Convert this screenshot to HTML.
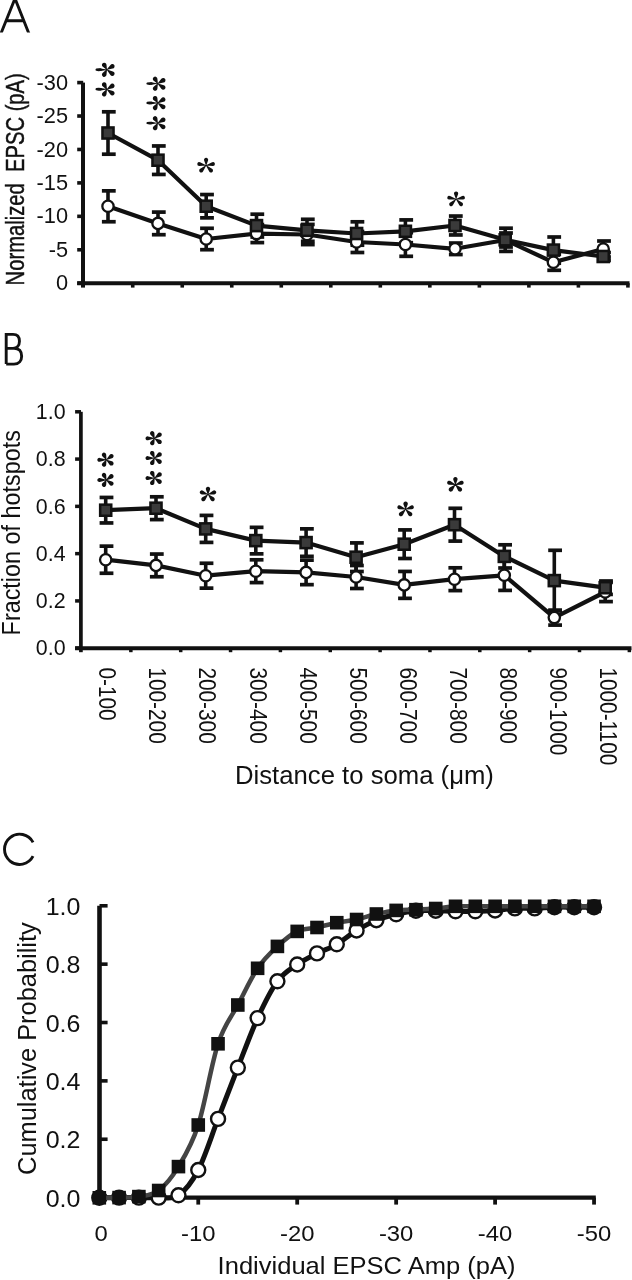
<!DOCTYPE html><html><head><meta charset="utf-8"><title>figure</title><style>
html,body{margin:0;padding:0;background:#fff;overflow:hidden}svg{display:block;will-change:transform}
text{font-family:"Liberation Sans",sans-serif;fill:#111}
</style></head><body>
<svg width="632" height="1280" viewBox="0 0 632 1280">
<defs><path id="au" d="M0.2 0L1.95 -4.81A2.1 2.1 0 1 0 -1.95 -4.81L-0.2 -0ZM0.04 0.2L6.76 0.49A1.9 1.9 0 1 0 6.03 -3.09L-0.04 -0.2ZM0.04 -0.2L-6.03 -3.09A1.9 1.9 0 1 0 -6.76 0.49L-0.04 0.2ZM-0.14 0.14L3.12 6.02A2 2 0 1 0 5.89 3.36L0.14 -0.14ZM-0.14 -0.14L-5.89 3.36A2 2 0 1 0 -3.12 6.02L0.14 0.14Z"/><g id="ar"><path d="M-0 -0.2L-6.24 -1.27A1.3 1.3 0 1 0 -6.24 1.27L0 0.2ZM0.18 -0.1L-0.3 -4.84A2.3 2.3 0 1 0 -3.94 -2.83L-0.18 0.1ZM0.11 0.17L5.93 -1.14A2.3 2.3 0 1 0 3.67 -4.8L-0.11 -0.17ZM-0.12 0.16L3.61 5.21A2.3 2.3 0 1 0 6.11 1.68L0.12 -0.16ZM-0.18 -0.09L-4 3.08A2.3 2.3 0 1 0 -0.3 5.04L0.18 0.09Z"/><ellipse cx="-8.1" cy="0" rx="3.2" ry="1.45"/></g><path id="ab" d="M-0 -0.2L-6.43 -1.92A2 2 0 1 0 -6.43 1.92L0 0.2ZM0.18 -0.08L-0.1 -5.04A2.2 2.2 0 1 0 -3.76 -3.36L-0.18 0.08ZM0.12 0.16L5.69 -1.58A2.2 2.2 0 1 0 3.27 -4.92L-0.12 -0.16ZM-0.12 0.16L3.28 4.83A2.2 2.2 0 1 0 5.65 1.47L0.12 -0.16ZM-0.18 -0.09L-3.71 3.11A2.2 2.2 0 1 0 -0.1 4.85L0.18 0.09Z"/><path id="bu" d="M0.2 0L2.02 -4.62A2.2 2.2 0 1 0 -2.02 -4.62L-0.2 -0ZM0.06 0.19L6.18 0.05A2.05 2.05 0 1 0 4.99 -3.65L-0.06 -0.19ZM0.06 -0.19L-4.99 -3.65A2.05 2.05 0 1 0 -6.18 0.05L-0.06 0.19ZM-0.14 0.14L2.65 5.71A2.15 2.15 0 1 0 5.59 2.89L0.14 -0.14ZM-0.14 -0.14L-5.59 2.89A2.15 2.15 0 1 0 -2.65 5.71L0.14 0.14Z"/></defs>
<rect width="632" height="1280" fill="#fff"/>
<g fill="none" stroke="#111" stroke-width="2.9">
<clipPath id="ca"><rect x="-5" y="-5" width="60" height="37.6"/></clipPath>
<path clip-path="url(#ca)" d="M0.6 34.3L15 -1.5L29.2 34.3M6.3 20.7H23.5"/>
<path d="M6.2 364.1V334.4H13C17.5 334.4 19.45 337.5 19.45 341.3C19.45 345.2 17 348.4 13 348.4H6.2M13 348.4H14C19.5 348.4 21.65 352 21.65 356.2C21.65 360.5 19 364.1 14 364.1H6.2"/>
<path d="M33.05 842.44A15.1 15.1 0 1 0 33.05 856.16"/>
</g>
<line x1="83" y1="82.6" x2="83" y2="287.6" stroke="#111" stroke-width="4" stroke-linecap="butt"/>
<line x1="77.2" y1="82.6" x2="83.2" y2="82.6" stroke="#111" stroke-width="3.6" stroke-linecap="butt"/>
<text transform="translate(68,89.7) scale(0.99,1)" font-size="22" text-anchor="end">-30</text>
<line x1="77.2" y1="116.03" x2="83.2" y2="116.03" stroke="#111" stroke-width="3.6" stroke-linecap="butt"/>
<text transform="translate(68,123.13) scale(0.99,1)" font-size="22" text-anchor="end">-25</text>
<line x1="77.2" y1="149.47" x2="83.2" y2="149.47" stroke="#111" stroke-width="3.6" stroke-linecap="butt"/>
<text transform="translate(68,156.57) scale(0.99,1)" font-size="22" text-anchor="end">-20</text>
<line x1="77.2" y1="182.9" x2="83.2" y2="182.9" stroke="#111" stroke-width="3.6" stroke-linecap="butt"/>
<text transform="translate(68,190) scale(0.99,1)" font-size="22" text-anchor="end">-15</text>
<line x1="77.2" y1="216.33" x2="83.2" y2="216.33" stroke="#111" stroke-width="3.6" stroke-linecap="butt"/>
<text transform="translate(68,223.43) scale(0.99,1)" font-size="22" text-anchor="end">-10</text>
<line x1="77.2" y1="249.77" x2="83.2" y2="249.77" stroke="#111" stroke-width="3.6" stroke-linecap="butt"/>
<text transform="translate(68,256.87) scale(0.99,1)" font-size="22" text-anchor="end">-5</text>
<line x1="77.2" y1="283.2" x2="83.2" y2="283.2" stroke="#111" stroke-width="3.6" stroke-linecap="butt"/>
<text transform="translate(68,290.3) scale(0.99,1)" font-size="22" text-anchor="end">0</text>
<line x1="77.2" y1="283.2" x2="629.5" y2="283.2" stroke="#111" stroke-width="4" stroke-linecap="butt"/>
<line x1="132.72" y1="283.2" x2="132.72" y2="287.6" stroke="#111" stroke-width="3.6" stroke-linecap="butt"/>
<line x1="182.24" y1="283.2" x2="182.24" y2="287.6" stroke="#111" stroke-width="3.6" stroke-linecap="butt"/>
<line x1="231.76" y1="283.2" x2="231.76" y2="287.6" stroke="#111" stroke-width="3.6" stroke-linecap="butt"/>
<line x1="281.28" y1="283.2" x2="281.28" y2="287.6" stroke="#111" stroke-width="3.6" stroke-linecap="butt"/>
<line x1="330.8" y1="283.2" x2="330.8" y2="287.6" stroke="#111" stroke-width="3.6" stroke-linecap="butt"/>
<line x1="380.32" y1="283.2" x2="380.32" y2="287.6" stroke="#111" stroke-width="3.6" stroke-linecap="butt"/>
<line x1="429.84" y1="283.2" x2="429.84" y2="287.6" stroke="#111" stroke-width="3.6" stroke-linecap="butt"/>
<line x1="479.36" y1="283.2" x2="479.36" y2="287.6" stroke="#111" stroke-width="3.6" stroke-linecap="butt"/>
<line x1="528.88" y1="283.2" x2="528.88" y2="287.6" stroke="#111" stroke-width="3.6" stroke-linecap="butt"/>
<line x1="578.4" y1="283.2" x2="578.4" y2="287.6" stroke="#111" stroke-width="3.6" stroke-linecap="butt"/>
<line x1="627.92" y1="283.2" x2="627.92" y2="287.6" stroke="#111" stroke-width="3.6" stroke-linecap="butt"/>
<line x1="108" y1="190.85" x2="108" y2="221.75" stroke="#111" stroke-width="3.6" stroke-linecap="butt"/>
<line x1="101.9" y1="190.85" x2="115.7" y2="190.85" stroke="#111" stroke-width="3.7" stroke-linecap="butt"/>
<line x1="101.9" y1="221.75" x2="115.7" y2="221.75" stroke="#111" stroke-width="3.7" stroke-linecap="butt"/>
<line x1="158" y1="212.1" x2="158" y2="234.7" stroke="#111" stroke-width="3.6" stroke-linecap="butt"/>
<line x1="151.9" y1="212.1" x2="165.7" y2="212.1" stroke="#111" stroke-width="3.7" stroke-linecap="butt"/>
<line x1="151.9" y1="234.7" x2="165.7" y2="234.7" stroke="#111" stroke-width="3.7" stroke-linecap="butt"/>
<line x1="206.2" y1="228.3" x2="206.2" y2="249.7" stroke="#111" stroke-width="3.6" stroke-linecap="butt"/>
<line x1="200.1" y1="228.3" x2="213.9" y2="228.3" stroke="#111" stroke-width="3.7" stroke-linecap="butt"/>
<line x1="200.1" y1="249.7" x2="213.9" y2="249.7" stroke="#111" stroke-width="3.7" stroke-linecap="butt"/>
<line x1="256.5" y1="224.6" x2="256.5" y2="242.6" stroke="#111" stroke-width="3.6" stroke-linecap="butt"/>
<line x1="250.4" y1="224.6" x2="264.2" y2="224.6" stroke="#111" stroke-width="3.7" stroke-linecap="butt"/>
<line x1="250.4" y1="242.6" x2="264.2" y2="242.6" stroke="#111" stroke-width="3.7" stroke-linecap="butt"/>
<line x1="307" y1="224.4" x2="307" y2="244.6" stroke="#111" stroke-width="3.6" stroke-linecap="butt"/>
<line x1="300.9" y1="224.4" x2="314.7" y2="224.4" stroke="#111" stroke-width="3.7" stroke-linecap="butt"/>
<line x1="300.9" y1="244.6" x2="314.7" y2="244.6" stroke="#111" stroke-width="3.7" stroke-linecap="butt"/>
<line x1="356.6" y1="231.5" x2="356.6" y2="252.5" stroke="#111" stroke-width="3.6" stroke-linecap="butt"/>
<line x1="350.5" y1="231.5" x2="364.3" y2="231.5" stroke="#111" stroke-width="3.7" stroke-linecap="butt"/>
<line x1="350.5" y1="252.5" x2="364.3" y2="252.5" stroke="#111" stroke-width="3.7" stroke-linecap="butt"/>
<line x1="405.4" y1="232.7" x2="405.4" y2="256.3" stroke="#111" stroke-width="3.6" stroke-linecap="butt"/>
<line x1="399.3" y1="232.7" x2="413.1" y2="232.7" stroke="#111" stroke-width="3.7" stroke-linecap="butt"/>
<line x1="399.3" y1="256.3" x2="413.1" y2="256.3" stroke="#111" stroke-width="3.7" stroke-linecap="butt"/>
<line x1="455" y1="243.05" x2="455" y2="254.55" stroke="#111" stroke-width="3.6" stroke-linecap="butt"/>
<line x1="448.9" y1="243.05" x2="462.7" y2="243.05" stroke="#111" stroke-width="3.7" stroke-linecap="butt"/>
<line x1="448.9" y1="254.55" x2="462.7" y2="254.55" stroke="#111" stroke-width="3.7" stroke-linecap="butt"/>
<line x1="505.2" y1="233" x2="505.2" y2="247" stroke="#111" stroke-width="3.6" stroke-linecap="butt"/>
<line x1="499.1" y1="233" x2="512.9" y2="233" stroke="#111" stroke-width="3.7" stroke-linecap="butt"/>
<line x1="499.1" y1="247" x2="512.9" y2="247" stroke="#111" stroke-width="3.7" stroke-linecap="butt"/>
<line x1="553.4" y1="254.3" x2="553.4" y2="270.3" stroke="#111" stroke-width="3.6" stroke-linecap="butt"/>
<line x1="547.3" y1="254.3" x2="561.1" y2="254.3" stroke="#111" stroke-width="3.7" stroke-linecap="butt"/>
<line x1="547.3" y1="270.3" x2="561.1" y2="270.3" stroke="#111" stroke-width="3.7" stroke-linecap="butt"/>
<line x1="603.2" y1="241" x2="603.2" y2="257" stroke="#111" stroke-width="3.6" stroke-linecap="butt"/>
<line x1="597.1" y1="241" x2="610.9" y2="241" stroke="#111" stroke-width="3.7" stroke-linecap="butt"/>
<line x1="597.1" y1="257" x2="610.9" y2="257" stroke="#111" stroke-width="3.7" stroke-linecap="butt"/>
<line x1="108" y1="111.8" x2="108" y2="154.2" stroke="#111" stroke-width="3.6" stroke-linecap="butt"/>
<line x1="101.9" y1="111.8" x2="115.7" y2="111.8" stroke="#111" stroke-width="3.7" stroke-linecap="butt"/>
<line x1="101.9" y1="154.2" x2="115.7" y2="154.2" stroke="#111" stroke-width="3.7" stroke-linecap="butt"/>
<line x1="158" y1="145.95" x2="158" y2="174.45" stroke="#111" stroke-width="3.6" stroke-linecap="butt"/>
<line x1="151.9" y1="145.95" x2="165.7" y2="145.95" stroke="#111" stroke-width="3.7" stroke-linecap="butt"/>
<line x1="151.9" y1="174.45" x2="165.7" y2="174.45" stroke="#111" stroke-width="3.7" stroke-linecap="butt"/>
<line x1="206.2" y1="194.55" x2="206.2" y2="217.85" stroke="#111" stroke-width="3.6" stroke-linecap="butt"/>
<line x1="200.1" y1="194.55" x2="213.9" y2="194.55" stroke="#111" stroke-width="3.7" stroke-linecap="butt"/>
<line x1="200.1" y1="217.85" x2="213.9" y2="217.85" stroke="#111" stroke-width="3.7" stroke-linecap="butt"/>
<line x1="256.5" y1="214.2" x2="256.5" y2="237" stroke="#111" stroke-width="3.6" stroke-linecap="butt"/>
<line x1="250.4" y1="214.2" x2="264.2" y2="214.2" stroke="#111" stroke-width="3.7" stroke-linecap="butt"/>
<line x1="250.4" y1="237" x2="264.2" y2="237" stroke="#111" stroke-width="3.7" stroke-linecap="butt"/>
<line x1="307" y1="219.3" x2="307" y2="241.3" stroke="#111" stroke-width="3.6" stroke-linecap="butt"/>
<line x1="300.9" y1="219.3" x2="314.7" y2="219.3" stroke="#111" stroke-width="3.7" stroke-linecap="butt"/>
<line x1="300.9" y1="241.3" x2="314.7" y2="241.3" stroke="#111" stroke-width="3.7" stroke-linecap="butt"/>
<line x1="356.6" y1="221.8" x2="356.6" y2="245.2" stroke="#111" stroke-width="3.6" stroke-linecap="butt"/>
<line x1="350.5" y1="221.8" x2="364.3" y2="221.8" stroke="#111" stroke-width="3.7" stroke-linecap="butt"/>
<line x1="350.5" y1="245.2" x2="364.3" y2="245.2" stroke="#111" stroke-width="3.7" stroke-linecap="butt"/>
<line x1="405.4" y1="219.9" x2="405.4" y2="242.7" stroke="#111" stroke-width="3.6" stroke-linecap="butt"/>
<line x1="399.3" y1="219.9" x2="413.1" y2="219.9" stroke="#111" stroke-width="3.7" stroke-linecap="butt"/>
<line x1="399.3" y1="242.7" x2="413.1" y2="242.7" stroke="#111" stroke-width="3.7" stroke-linecap="butt"/>
<line x1="455" y1="216.05" x2="455" y2="234.95" stroke="#111" stroke-width="3.6" stroke-linecap="butt"/>
<line x1="448.9" y1="216.05" x2="462.7" y2="216.05" stroke="#111" stroke-width="3.7" stroke-linecap="butt"/>
<line x1="448.9" y1="234.95" x2="462.7" y2="234.95" stroke="#111" stroke-width="3.7" stroke-linecap="butt"/>
<line x1="505.2" y1="228.2" x2="505.2" y2="251.4" stroke="#111" stroke-width="3.6" stroke-linecap="butt"/>
<line x1="499.1" y1="228.2" x2="512.9" y2="228.2" stroke="#111" stroke-width="3.7" stroke-linecap="butt"/>
<line x1="499.1" y1="251.4" x2="512.9" y2="251.4" stroke="#111" stroke-width="3.7" stroke-linecap="butt"/>
<line x1="553.4" y1="237" x2="553.4" y2="263.2" stroke="#111" stroke-width="3.6" stroke-linecap="butt"/>
<line x1="547.3" y1="237" x2="561.1" y2="237" stroke="#111" stroke-width="3.7" stroke-linecap="butt"/>
<line x1="547.3" y1="263.2" x2="561.1" y2="263.2" stroke="#111" stroke-width="3.7" stroke-linecap="butt"/>
<line x1="603.2" y1="252.5" x2="603.2" y2="260.5" stroke="#111" stroke-width="3.6" stroke-linecap="butt"/>
<line x1="597.1" y1="252.5" x2="610.9" y2="252.5" stroke="#111" stroke-width="3.7" stroke-linecap="butt"/>
<line x1="597.1" y1="260.5" x2="610.9" y2="260.5" stroke="#111" stroke-width="3.7" stroke-linecap="butt"/>
<polyline fill="none" stroke="#111" stroke-width="4.2" stroke-linejoin="round" points="108,206.3 158,223.4 206.2,239 256.5,233.6 307,234.5 356.6,242 405.4,244.5 455,248.8 505.2,240 553.4,262.3 603.2,249"/>
<polyline fill="none" stroke="#111" stroke-width="4.2" stroke-linejoin="round" points="108,133 158,160.2 206.2,206.2 256.5,225.6 307,230.3 356.6,233.5 405.4,231.3 455,225.5 505.2,239.8 553.4,250.1 603.2,256.5"/>
<circle cx="108" cy="206.3" r="5.65" fill="#fff" stroke="#111" stroke-width="2.3"/>
<circle cx="158" cy="223.4" r="5.65" fill="#fff" stroke="#111" stroke-width="2.3"/>
<circle cx="206.2" cy="239" r="5.65" fill="#fff" stroke="#111" stroke-width="2.3"/>
<circle cx="256.5" cy="233.6" r="5.65" fill="#fff" stroke="#111" stroke-width="2.3"/>
<circle cx="307" cy="234.5" r="5.65" fill="#fff" stroke="#111" stroke-width="2.3"/>
<circle cx="356.6" cy="242" r="5.65" fill="#fff" stroke="#111" stroke-width="2.3"/>
<circle cx="405.4" cy="244.5" r="5.65" fill="#fff" stroke="#111" stroke-width="2.3"/>
<circle cx="455" cy="248.8" r="5.65" fill="#fff" stroke="#111" stroke-width="2.3"/>
<circle cx="505.2" cy="240" r="5.65" fill="#fff" stroke="#111" stroke-width="2.3"/>
<circle cx="553.4" cy="262.3" r="5.65" fill="#fff" stroke="#111" stroke-width="2.3"/>
<circle cx="603.2" cy="249" r="5.65" fill="#fff" stroke="#111" stroke-width="2.3"/>
<rect x="102.45" y="127.45" width="11.1" height="11.1" fill="#3a3a3a" stroke="#111" stroke-width="2.5"/>
<rect x="152.45" y="154.65" width="11.1" height="11.1" fill="#3a3a3a" stroke="#111" stroke-width="2.5"/>
<rect x="200.65" y="200.65" width="11.1" height="11.1" fill="#3a3a3a" stroke="#111" stroke-width="2.5"/>
<rect x="250.95" y="220.05" width="11.1" height="11.1" fill="#3a3a3a" stroke="#111" stroke-width="2.5"/>
<rect x="301.45" y="224.75" width="11.1" height="11.1" fill="#3a3a3a" stroke="#111" stroke-width="2.5"/>
<rect x="351.05" y="227.95" width="11.1" height="11.1" fill="#3a3a3a" stroke="#111" stroke-width="2.5"/>
<rect x="399.85" y="225.75" width="11.1" height="11.1" fill="#3a3a3a" stroke="#111" stroke-width="2.5"/>
<rect x="449.45" y="219.95" width="11.1" height="11.1" fill="#3a3a3a" stroke="#111" stroke-width="2.5"/>
<rect x="499.65" y="234.25" width="11.1" height="11.1" fill="#3a3a3a" stroke="#111" stroke-width="2.5"/>
<rect x="547.85" y="244.55" width="11.1" height="11.1" fill="#3a3a3a" stroke="#111" stroke-width="2.5"/>
<rect x="597.65" y="250.95" width="11.1" height="11.1" fill="#3a3a3a" stroke="#111" stroke-width="2.5"/>
<use href="#ar" x="106.8" y="69.7" fill="#111"/>
<use href="#ar" x="106.8" y="89.3" fill="#111"/>
<use href="#ar" x="157.7" y="83.6" fill="#111"/>
<use href="#ar" x="157.7" y="103" fill="#111"/>
<use href="#ar" x="157.7" y="123.1" fill="#111"/>
<use href="#au" x="206.1" y="165.4" fill="#111"/>
<use href="#au" x="456.1" y="199.1" fill="#111"/>
<text transform="translate(23.7,285.4) rotate(-90) scale(0.79,1)" font-size="25.6" stroke="#111" stroke-width="0.45">Normalized&#160;&#160;EPSC (pA)</text>
<line x1="80.9" y1="411.8" x2="80.9" y2="652.2" stroke="#111" stroke-width="3.7" stroke-linecap="butt"/>
<line x1="75.1" y1="411.8" x2="81" y2="411.8" stroke="#111" stroke-width="3.5" stroke-linecap="butt"/>
<text x="65.6" y="419" font-size="21.4" text-anchor="end">1.0</text>
<line x1="75.1" y1="459.08" x2="81" y2="459.08" stroke="#111" stroke-width="3.5" stroke-linecap="butt"/>
<text x="65.6" y="466.28" font-size="21.4" text-anchor="end">0.8</text>
<line x1="75.1" y1="506.36" x2="81" y2="506.36" stroke="#111" stroke-width="3.5" stroke-linecap="butt"/>
<text x="65.6" y="513.56" font-size="21.4" text-anchor="end">0.6</text>
<line x1="75.1" y1="553.64" x2="81" y2="553.64" stroke="#111" stroke-width="3.5" stroke-linecap="butt"/>
<text x="65.6" y="560.84" font-size="21.4" text-anchor="end">0.4</text>
<line x1="75.1" y1="600.92" x2="81" y2="600.92" stroke="#111" stroke-width="3.5" stroke-linecap="butt"/>
<text x="65.6" y="608.12" font-size="21.4" text-anchor="end">0.2</text>
<line x1="75.1" y1="648.2" x2="81" y2="648.2" stroke="#111" stroke-width="3.5" stroke-linecap="butt"/>
<text x="65.6" y="655.4" font-size="21.4" text-anchor="end">0.0</text>
<line x1="75.1" y1="648.2" x2="631.5" y2="648.2" stroke="#111" stroke-width="4" stroke-linecap="butt"/>
<line x1="130.85" y1="648.2" x2="130.85" y2="652.2" stroke="#111" stroke-width="3.5" stroke-linecap="butt"/>
<line x1="180.7" y1="648.2" x2="180.7" y2="652.2" stroke="#111" stroke-width="3.5" stroke-linecap="butt"/>
<line x1="230.55" y1="648.2" x2="230.55" y2="652.2" stroke="#111" stroke-width="3.5" stroke-linecap="butt"/>
<line x1="280.4" y1="648.2" x2="280.4" y2="652.2" stroke="#111" stroke-width="3.5" stroke-linecap="butt"/>
<line x1="330.25" y1="648.2" x2="330.25" y2="652.2" stroke="#111" stroke-width="3.5" stroke-linecap="butt"/>
<line x1="380.1" y1="648.2" x2="380.1" y2="652.2" stroke="#111" stroke-width="3.5" stroke-linecap="butt"/>
<line x1="429.95" y1="648.2" x2="429.95" y2="652.2" stroke="#111" stroke-width="3.5" stroke-linecap="butt"/>
<line x1="479.8" y1="648.2" x2="479.8" y2="652.2" stroke="#111" stroke-width="3.5" stroke-linecap="butt"/>
<line x1="529.65" y1="648.2" x2="529.65" y2="652.2" stroke="#111" stroke-width="3.5" stroke-linecap="butt"/>
<line x1="579.5" y1="648.2" x2="579.5" y2="652.2" stroke="#111" stroke-width="3.5" stroke-linecap="butt"/>
<line x1="629.35" y1="648.2" x2="629.35" y2="652.2" stroke="#111" stroke-width="3.5" stroke-linecap="butt"/>
<line x1="105.7" y1="546.15" x2="105.7" y2="573.25" stroke="#111" stroke-width="3.6" stroke-linecap="butt"/>
<line x1="99.6" y1="546.15" x2="113.4" y2="546.15" stroke="#111" stroke-width="3.7" stroke-linecap="butt"/>
<line x1="99.6" y1="573.25" x2="113.4" y2="573.25" stroke="#111" stroke-width="3.7" stroke-linecap="butt"/>
<line x1="156" y1="554.05" x2="156" y2="576.75" stroke="#111" stroke-width="3.6" stroke-linecap="butt"/>
<line x1="149.9" y1="554.05" x2="163.7" y2="554.05" stroke="#111" stroke-width="3.7" stroke-linecap="butt"/>
<line x1="149.9" y1="576.75" x2="163.7" y2="576.75" stroke="#111" stroke-width="3.7" stroke-linecap="butt"/>
<line x1="205.7" y1="563.25" x2="205.7" y2="588.15" stroke="#111" stroke-width="3.6" stroke-linecap="butt"/>
<line x1="199.6" y1="563.25" x2="213.4" y2="563.25" stroke="#111" stroke-width="3.7" stroke-linecap="butt"/>
<line x1="199.6" y1="588.15" x2="213.4" y2="588.15" stroke="#111" stroke-width="3.7" stroke-linecap="butt"/>
<line x1="255.8" y1="559.8" x2="255.8" y2="582.6" stroke="#111" stroke-width="3.6" stroke-linecap="butt"/>
<line x1="249.7" y1="559.8" x2="263.5" y2="559.8" stroke="#111" stroke-width="3.7" stroke-linecap="butt"/>
<line x1="249.7" y1="582.6" x2="263.5" y2="582.6" stroke="#111" stroke-width="3.7" stroke-linecap="butt"/>
<line x1="306.1" y1="560.15" x2="306.1" y2="584.65" stroke="#111" stroke-width="3.6" stroke-linecap="butt"/>
<line x1="300" y1="560.15" x2="313.8" y2="560.15" stroke="#111" stroke-width="3.7" stroke-linecap="butt"/>
<line x1="300" y1="584.65" x2="313.8" y2="584.65" stroke="#111" stroke-width="3.7" stroke-linecap="butt"/>
<line x1="356.1" y1="565.5" x2="356.1" y2="588.5" stroke="#111" stroke-width="3.6" stroke-linecap="butt"/>
<line x1="350" y1="565.5" x2="363.8" y2="565.5" stroke="#111" stroke-width="3.7" stroke-linecap="butt"/>
<line x1="350" y1="588.5" x2="363.8" y2="588.5" stroke="#111" stroke-width="3.7" stroke-linecap="butt"/>
<line x1="404.2" y1="571.45" x2="404.2" y2="598.35" stroke="#111" stroke-width="3.6" stroke-linecap="butt"/>
<line x1="398.1" y1="571.45" x2="411.9" y2="571.45" stroke="#111" stroke-width="3.7" stroke-linecap="butt"/>
<line x1="398.1" y1="598.35" x2="411.9" y2="598.35" stroke="#111" stroke-width="3.7" stroke-linecap="butt"/>
<line x1="454.5" y1="567.8" x2="454.5" y2="590.6" stroke="#111" stroke-width="3.6" stroke-linecap="butt"/>
<line x1="448.4" y1="567.8" x2="462.2" y2="567.8" stroke="#111" stroke-width="3.7" stroke-linecap="butt"/>
<line x1="448.4" y1="590.6" x2="462.2" y2="590.6" stroke="#111" stroke-width="3.7" stroke-linecap="butt"/>
<line x1="504.3" y1="560.2" x2="504.3" y2="590.4" stroke="#111" stroke-width="3.6" stroke-linecap="butt"/>
<line x1="498.2" y1="560.2" x2="512" y2="560.2" stroke="#111" stroke-width="3.7" stroke-linecap="butt"/>
<line x1="498.2" y1="590.4" x2="512" y2="590.4" stroke="#111" stroke-width="3.7" stroke-linecap="butt"/>
<line x1="554.3" y1="610.1" x2="554.3" y2="625.1" stroke="#111" stroke-width="3.6" stroke-linecap="butt"/>
<line x1="548.2" y1="610.1" x2="562" y2="610.1" stroke="#111" stroke-width="3.7" stroke-linecap="butt"/>
<line x1="548.2" y1="625.1" x2="562" y2="625.1" stroke="#111" stroke-width="3.7" stroke-linecap="butt"/>
<line x1="605.2" y1="582.4" x2="605.2" y2="601.6" stroke="#111" stroke-width="3.6" stroke-linecap="butt"/>
<line x1="599.1" y1="582.4" x2="612.9" y2="582.4" stroke="#111" stroke-width="3.7" stroke-linecap="butt"/>
<line x1="599.1" y1="601.6" x2="612.9" y2="601.6" stroke="#111" stroke-width="3.7" stroke-linecap="butt"/>
<line x1="105.7" y1="497.45" x2="105.7" y2="522.95" stroke="#111" stroke-width="3.6" stroke-linecap="butt"/>
<line x1="99.6" y1="497.45" x2="113.4" y2="497.45" stroke="#111" stroke-width="3.7" stroke-linecap="butt"/>
<line x1="99.6" y1="522.95" x2="113.4" y2="522.95" stroke="#111" stroke-width="3.7" stroke-linecap="butt"/>
<line x1="156" y1="496.8" x2="156" y2="519.6" stroke="#111" stroke-width="3.6" stroke-linecap="butt"/>
<line x1="149.9" y1="496.8" x2="163.7" y2="496.8" stroke="#111" stroke-width="3.7" stroke-linecap="butt"/>
<line x1="149.9" y1="519.6" x2="163.7" y2="519.6" stroke="#111" stroke-width="3.7" stroke-linecap="butt"/>
<line x1="205.7" y1="515.4" x2="205.7" y2="542.4" stroke="#111" stroke-width="3.6" stroke-linecap="butt"/>
<line x1="199.6" y1="515.4" x2="213.4" y2="515.4" stroke="#111" stroke-width="3.7" stroke-linecap="butt"/>
<line x1="199.6" y1="542.4" x2="213.4" y2="542.4" stroke="#111" stroke-width="3.7" stroke-linecap="butt"/>
<line x1="255.8" y1="527.35" x2="255.8" y2="553.85" stroke="#111" stroke-width="3.6" stroke-linecap="butt"/>
<line x1="249.7" y1="527.35" x2="263.5" y2="527.35" stroke="#111" stroke-width="3.7" stroke-linecap="butt"/>
<line x1="249.7" y1="553.85" x2="263.5" y2="553.85" stroke="#111" stroke-width="3.7" stroke-linecap="butt"/>
<line x1="306.1" y1="528.85" x2="306.1" y2="556.35" stroke="#111" stroke-width="3.6" stroke-linecap="butt"/>
<line x1="300" y1="528.85" x2="313.8" y2="528.85" stroke="#111" stroke-width="3.7" stroke-linecap="butt"/>
<line x1="300" y1="556.35" x2="313.8" y2="556.35" stroke="#111" stroke-width="3.7" stroke-linecap="butt"/>
<line x1="356.1" y1="542.9" x2="356.1" y2="571.5" stroke="#111" stroke-width="3.6" stroke-linecap="butt"/>
<line x1="350" y1="542.9" x2="363.8" y2="542.9" stroke="#111" stroke-width="3.7" stroke-linecap="butt"/>
<line x1="350" y1="571.5" x2="363.8" y2="571.5" stroke="#111" stroke-width="3.7" stroke-linecap="butt"/>
<line x1="404.2" y1="529.9" x2="404.2" y2="558.5" stroke="#111" stroke-width="3.6" stroke-linecap="butt"/>
<line x1="398.1" y1="529.9" x2="411.9" y2="529.9" stroke="#111" stroke-width="3.7" stroke-linecap="butt"/>
<line x1="398.1" y1="558.5" x2="411.9" y2="558.5" stroke="#111" stroke-width="3.7" stroke-linecap="butt"/>
<line x1="454.5" y1="508.3" x2="454.5" y2="541.1" stroke="#111" stroke-width="3.6" stroke-linecap="butt"/>
<line x1="448.4" y1="508.3" x2="462.2" y2="508.3" stroke="#111" stroke-width="3.7" stroke-linecap="butt"/>
<line x1="448.4" y1="541.1" x2="462.2" y2="541.1" stroke="#111" stroke-width="3.7" stroke-linecap="butt"/>
<line x1="504.3" y1="544.8" x2="504.3" y2="568" stroke="#111" stroke-width="3.6" stroke-linecap="butt"/>
<line x1="498.2" y1="544.8" x2="512" y2="544.8" stroke="#111" stroke-width="3.7" stroke-linecap="butt"/>
<line x1="498.2" y1="568" x2="512" y2="568" stroke="#111" stroke-width="3.7" stroke-linecap="butt"/>
<line x1="554.3" y1="550.3" x2="554.3" y2="610.9" stroke="#111" stroke-width="3.6" stroke-linecap="butt"/>
<line x1="548.2" y1="550.3" x2="562" y2="550.3" stroke="#111" stroke-width="3.7" stroke-linecap="butt"/>
<line x1="548.2" y1="610.9" x2="562" y2="610.9" stroke="#111" stroke-width="3.7" stroke-linecap="butt"/>
<line x1="605.2" y1="581" x2="605.2" y2="594.4" stroke="#111" stroke-width="3.6" stroke-linecap="butt"/>
<line x1="599.1" y1="581" x2="612.9" y2="581" stroke="#111" stroke-width="3.7" stroke-linecap="butt"/>
<line x1="599.1" y1="594.4" x2="612.9" y2="594.4" stroke="#111" stroke-width="3.7" stroke-linecap="butt"/>
<polyline fill="none" stroke="#111" stroke-width="4.2" stroke-linejoin="round" points="105.7,559.7 156,565.4 205.7,575.7 255.8,571.2 306.1,572.4 356.1,577 404.2,584.9 454.5,579.2 504.3,575.3 554.3,617.6 605.2,592"/>
<polyline fill="none" stroke="#111" stroke-width="4.2" stroke-linejoin="round" points="105.7,510.2 156,508.2 205.7,528.9 255.8,540.6 306.1,542.6 356.1,557.2 404.2,544.2 454.5,524.7 504.3,556.4 554.3,580.6 605.2,587.7"/>
<circle cx="105.7" cy="559.7" r="5.65" fill="#fff" stroke="#111" stroke-width="2.3"/>
<circle cx="156" cy="565.4" r="5.65" fill="#fff" stroke="#111" stroke-width="2.3"/>
<circle cx="205.7" cy="575.7" r="5.65" fill="#fff" stroke="#111" stroke-width="2.3"/>
<circle cx="255.8" cy="571.2" r="5.65" fill="#fff" stroke="#111" stroke-width="2.3"/>
<circle cx="306.1" cy="572.4" r="5.65" fill="#fff" stroke="#111" stroke-width="2.3"/>
<circle cx="356.1" cy="577" r="5.65" fill="#fff" stroke="#111" stroke-width="2.3"/>
<circle cx="404.2" cy="584.9" r="5.65" fill="#fff" stroke="#111" stroke-width="2.3"/>
<circle cx="454.5" cy="579.2" r="5.65" fill="#fff" stroke="#111" stroke-width="2.3"/>
<circle cx="504.3" cy="575.3" r="5.65" fill="#fff" stroke="#111" stroke-width="2.3"/>
<circle cx="554.3" cy="617.6" r="5.65" fill="#fff" stroke="#111" stroke-width="2.3"/>
<circle cx="605.2" cy="592" r="5.65" fill="#fff" stroke="#111" stroke-width="2.3"/>
<rect x="100.15" y="504.65" width="11.1" height="11.1" fill="#3a3a3a" stroke="#111" stroke-width="2.5"/>
<rect x="150.45" y="502.65" width="11.1" height="11.1" fill="#3a3a3a" stroke="#111" stroke-width="2.5"/>
<rect x="200.15" y="523.35" width="11.1" height="11.1" fill="#3a3a3a" stroke="#111" stroke-width="2.5"/>
<rect x="250.25" y="535.05" width="11.1" height="11.1" fill="#3a3a3a" stroke="#111" stroke-width="2.5"/>
<rect x="300.55" y="537.05" width="11.1" height="11.1" fill="#3a3a3a" stroke="#111" stroke-width="2.5"/>
<rect x="350.55" y="551.65" width="11.1" height="11.1" fill="#3a3a3a" stroke="#111" stroke-width="2.5"/>
<rect x="398.65" y="538.65" width="11.1" height="11.1" fill="#3a3a3a" stroke="#111" stroke-width="2.5"/>
<rect x="448.95" y="519.15" width="11.1" height="11.1" fill="#3a3a3a" stroke="#111" stroke-width="2.5"/>
<rect x="498.75" y="550.85" width="11.1" height="11.1" fill="#3a3a3a" stroke="#111" stroke-width="2.5"/>
<rect x="548.75" y="575.05" width="11.1" height="11.1" fill="#3a3a3a" stroke="#111" stroke-width="2.5"/>
<rect x="599.65" y="582.15" width="11.1" height="11.1" fill="#3a3a3a" stroke="#111" stroke-width="2.5"/>
<use href="#ab" x="106.3" y="459.8" fill="#111"/>
<use href="#ab" x="106.3" y="480" fill="#111"/>
<use href="#ab" x="154.5" y="438.3" fill="#111"/>
<use href="#ab" x="154.5" y="458.1" fill="#111"/>
<use href="#ab" x="154.5" y="478.1" fill="#111"/>
<use href="#bu" x="208" y="494.4" fill="#111"/>
<use href="#bu" x="405.6" y="509.3" fill="#111"/>
<use href="#bu" x="455.4" y="484.7" fill="#111"/>
<text transform="translate(99.3,667.4) rotate(90) scale(0.905,1)" font-size="23">0-100</text>
<text transform="translate(149.38,667.4) rotate(90) scale(0.905,1)" font-size="23">100-200</text>
<text transform="translate(199.46,667.4) rotate(90) scale(0.905,1)" font-size="23">200-300</text>
<text transform="translate(249.54,667.4) rotate(90) scale(0.905,1)" font-size="23">300-400</text>
<text transform="translate(299.62,667.4) rotate(90) scale(0.905,1)" font-size="23">400-500</text>
<text transform="translate(349.7,667.4) rotate(90) scale(0.905,1)" font-size="23">500-600</text>
<text transform="translate(399.78,667.4) rotate(90) scale(0.905,1)" font-size="23">600-700</text>
<text transform="translate(449.86,667.4) rotate(90) scale(0.905,1)" font-size="23">700-800</text>
<text transform="translate(499.94,667.4) rotate(90) scale(0.905,1)" font-size="23">800-900</text>
<text transform="translate(550.02,667.4) rotate(90) scale(0.905,1)" font-size="23">900-1000</text>
<text transform="translate(600.1,667.4) rotate(90) scale(0.905,1)" font-size="23">1000-1100</text>
<text transform="translate(235,784.4) scale(1.02,1)" font-size="25.2" text-anchor="start">Distance to soma (&#956;m)</text>
<text transform="translate(19.9,635.4) rotate(-90) scale(0.917,1)" font-size="25.5">Fraction of hotspots</text>
<line x1="99.5" y1="905.8" x2="99.5" y2="1197.6" stroke="#111" stroke-width="4.6" stroke-linecap="butt"/>
<line x1="99.5" y1="905.8" x2="107.6" y2="905.8" stroke="#111" stroke-width="3.6" stroke-linecap="butt"/>
<text transform="translate(80.4,914.9) scale(1.05,1)" font-size="23.8" text-anchor="end">1.0</text>
<line x1="99.5" y1="964.16" x2="107.6" y2="964.16" stroke="#111" stroke-width="3.6" stroke-linecap="butt"/>
<text transform="translate(80.4,973.26) scale(1.05,1)" font-size="23.8" text-anchor="end">0.8</text>
<line x1="99.5" y1="1022.52" x2="107.6" y2="1022.52" stroke="#111" stroke-width="3.6" stroke-linecap="butt"/>
<text transform="translate(80.4,1031.62) scale(1.05,1)" font-size="23.8" text-anchor="end">0.6</text>
<line x1="99.5" y1="1080.88" x2="107.6" y2="1080.88" stroke="#111" stroke-width="3.6" stroke-linecap="butt"/>
<text transform="translate(80.4,1089.98) scale(1.05,1)" font-size="23.8" text-anchor="end">0.4</text>
<line x1="99.5" y1="1139.24" x2="107.6" y2="1139.24" stroke="#111" stroke-width="3.6" stroke-linecap="butt"/>
<text transform="translate(80.4,1148.34) scale(1.05,1)" font-size="23.8" text-anchor="end">0.2</text>
<line x1="99.5" y1="1197.6" x2="107.6" y2="1197.6" stroke="#111" stroke-width="3.6" stroke-linecap="butt"/>
<text transform="translate(80.4,1206.7) scale(1.05,1)" font-size="23.8" text-anchor="end">0.0</text>
<line x1="99.5" y1="1197.6" x2="595.8" y2="1197.6" stroke="#111" stroke-width="4.2" stroke-linecap="butt"/>
<line x1="198.25" y1="1197.6" x2="198.25" y2="1204.6" stroke="#111" stroke-width="3.8" stroke-linecap="butt"/>
<line x1="297.2" y1="1197.6" x2="297.2" y2="1204.6" stroke="#111" stroke-width="3.8" stroke-linecap="butt"/>
<line x1="396.15" y1="1197.6" x2="396.15" y2="1204.6" stroke="#111" stroke-width="3.8" stroke-linecap="butt"/>
<line x1="495.1" y1="1197.6" x2="495.1" y2="1204.6" stroke="#111" stroke-width="3.8" stroke-linecap="butt"/>
<line x1="594.05" y1="1197.6" x2="594.05" y2="1204.6" stroke="#111" stroke-width="3.8" stroke-linecap="butt"/>
<text transform="translate(101.1,1241.2) scale(1.06,1)" font-size="22.5" text-anchor="middle">0</text>
<text transform="translate(198.25,1241.2) scale(1.06,1)" font-size="22.5" text-anchor="middle">-10</text>
<text transform="translate(297.2,1241.2) scale(1.06,1)" font-size="22.5" text-anchor="middle">-20</text>
<text transform="translate(396.15,1241.2) scale(1.06,1)" font-size="22.5" text-anchor="middle">-30</text>
<text transform="translate(495.1,1241.2) scale(1.06,1)" font-size="22.5" text-anchor="middle">-40</text>
<text transform="translate(594.05,1241.2) scale(1.06,1)" font-size="22.5" text-anchor="middle">-50</text>
<text transform="translate(217.6,1274.4) scale(1.03,1)" font-size="24.8" text-anchor="start">Individual EPSC Amp (pA)</text>
<text transform="translate(36,1174.9) rotate(-90) scale(1.004,1)" font-size="25.3">Cumulative Probability</text>
<path fill="none" stroke="#111" stroke-width="5" stroke-linejoin="round" d="M99.3 1197.8C102.6 1197.77 112.49 1197.63 119.09 1197.6C125.69 1197.57 132.28 1197.6 138.88 1197.6C145.48 1197.6 152.07 1197.98 158.67 1197.6C165.27 1197.22 171.86 1199.9 178.46 1195.3C185.06 1190.7 191.65 1182.73 198.25 1170C204.85 1157.27 211.44 1135.97 218.04 1118.9C224.64 1101.83 231.23 1084.4 237.83 1067.6C244.43 1050.8 251.02 1032.48 257.62 1018.1C264.22 1003.72 270.81 990.23 277.41 981.3C284.01 972.37 290.6 969.15 297.2 964.5C303.8 959.85 310.39 956.77 316.99 953.4C323.59 950.03 330.18 948.12 336.78 944.3C343.38 940.48 349.97 934.52 356.57 930.5C363.17 926.48 369.76 922.9 376.36 920.2C382.96 917.5 389.55 915.88 396.15 914.3C402.75 912.72 409.34 911.3 415.94 910.7C422.54 910.1 429.13 910.6 435.73 910.7C442.33 910.8 448.92 911.2 455.52 911.3C462.12 911.4 468.71 911.43 475.31 911.3C481.91 911.17 488.5 910.98 495.1 910.5C501.7 910.02 508.29 908.75 514.89 908.4C521.49 908.05 528.08 908.6 534.68 908.4C541.28 908.2 547.87 907.4 554.47 907.2C561.07 907 567.66 907.2 574.26 907.2C580.86 907.2 590.75 907.2 594.05 907.2"/>
<circle cx="99.3" cy="1197.8" r="7" fill="#fff" stroke="#111" stroke-width="2.4"/>
<circle cx="119.09" cy="1197.6" r="7" fill="#fff" stroke="#111" stroke-width="2.4"/>
<circle cx="138.88" cy="1197.6" r="7" fill="#fff" stroke="#111" stroke-width="2.4"/>
<circle cx="158.67" cy="1197.6" r="7" fill="#fff" stroke="#111" stroke-width="2.4"/>
<circle cx="178.46" cy="1195.3" r="7" fill="#fff" stroke="#111" stroke-width="2.4"/>
<circle cx="198.25" cy="1170" r="7" fill="#fff" stroke="#111" stroke-width="2.4"/>
<circle cx="218.04" cy="1118.9" r="7" fill="#fff" stroke="#111" stroke-width="2.4"/>
<circle cx="237.83" cy="1067.6" r="7" fill="#fff" stroke="#111" stroke-width="2.4"/>
<circle cx="257.62" cy="1018.1" r="7" fill="#fff" stroke="#111" stroke-width="2.4"/>
<circle cx="277.41" cy="981.3" r="7" fill="#fff" stroke="#111" stroke-width="2.4"/>
<circle cx="297.2" cy="964.5" r="7" fill="#fff" stroke="#111" stroke-width="2.4"/>
<circle cx="316.99" cy="953.4" r="7" fill="#fff" stroke="#111" stroke-width="2.4"/>
<circle cx="336.78" cy="944.3" r="7" fill="#fff" stroke="#111" stroke-width="2.4"/>
<circle cx="356.57" cy="930.5" r="7" fill="#fff" stroke="#111" stroke-width="2.4"/>
<circle cx="376.36" cy="920.2" r="7" fill="#fff" stroke="#111" stroke-width="2.4"/>
<circle cx="396.15" cy="914.3" r="7" fill="#fff" stroke="#111" stroke-width="2.4"/>
<circle cx="415.94" cy="910.7" r="7" fill="#fff" stroke="#111" stroke-width="2.4"/>
<circle cx="435.73" cy="910.7" r="7" fill="#fff" stroke="#111" stroke-width="2.4"/>
<circle cx="455.52" cy="911.3" r="7" fill="#fff" stroke="#111" stroke-width="2.4"/>
<circle cx="475.31" cy="911.3" r="7" fill="#fff" stroke="#111" stroke-width="2.4"/>
<circle cx="495.1" cy="910.5" r="7" fill="#fff" stroke="#111" stroke-width="2.4"/>
<circle cx="514.89" cy="908.4" r="7" fill="#fff" stroke="#111" stroke-width="2.4"/>
<circle cx="534.68" cy="908.4" r="7" fill="#fff" stroke="#111" stroke-width="2.4"/>
<circle cx="554.47" cy="907.2" r="7" fill="#fff" stroke="#111" stroke-width="2.4"/>
<circle cx="574.26" cy="907.2" r="7" fill="#fff" stroke="#111" stroke-width="2.4"/>
<circle cx="594.05" cy="907.2" r="7" fill="#fff" stroke="#111" stroke-width="2.4"/>
<path fill="none" stroke="#444" stroke-width="4.5" stroke-linejoin="round" d="M99.3 1197.8C102.6 1197.77 112.49 1197.8 119.09 1197.6C125.69 1197.4 132.28 1197.78 138.88 1196.6C145.48 1195.42 152.07 1195.5 158.67 1190.5C165.27 1185.5 171.86 1177.52 178.46 1166.6C185.06 1155.68 191.65 1145.47 198.25 1125C204.85 1104.53 211.44 1063.8 218.04 1043.8C224.64 1023.8 231.23 1017.58 237.83 1005C244.43 992.42 251.02 978.07 257.62 968.3C264.22 958.53 270.81 952.55 277.41 946.4C284.01 940.25 290.6 934.55 297.2 931.4C303.8 928.25 310.39 928.95 316.99 927.5C323.59 926.05 330.18 924.03 336.78 922.7C343.38 921.37 349.97 920.95 356.57 919.5C363.17 918.05 369.76 915.52 376.36 914C382.96 912.48 389.55 911.12 396.15 910.4C402.75 909.68 409.34 910.02 415.94 909.7C422.54 909.38 429.13 909.07 435.73 908.5C442.33 907.93 448.92 906.67 455.52 906.3C462.12 905.93 468.71 906.3 475.31 906.3C481.91 906.3 488.5 906.3 495.1 906.3C501.7 906.3 508.29 906.3 514.89 906.3C521.49 906.3 528.08 906.3 534.68 906.3C541.28 906.3 547.87 906.3 554.47 906.3C561.07 906.3 567.66 906.3 574.26 906.3C580.86 906.3 590.75 906.3 594.05 906.3"/>
<rect x="92.5" y="1191" width="13.6" height="13.6" fill="#111"/>
<rect x="112.29" y="1190.8" width="13.6" height="13.6" fill="#111"/>
<rect x="132.08" y="1189.8" width="13.6" height="13.6" fill="#111"/>
<rect x="151.87" y="1183.7" width="13.6" height="13.6" fill="#111"/>
<rect x="171.66" y="1159.8" width="13.6" height="13.6" fill="#111"/>
<rect x="191.45" y="1118.2" width="13.6" height="13.6" fill="#111"/>
<rect x="211.24" y="1037" width="13.6" height="13.6" fill="#111"/>
<rect x="231.03" y="998.2" width="13.6" height="13.6" fill="#111"/>
<rect x="250.82" y="961.5" width="13.6" height="13.6" fill="#111"/>
<rect x="270.61" y="939.6" width="13.6" height="13.6" fill="#111"/>
<rect x="290.4" y="924.6" width="13.6" height="13.6" fill="#111"/>
<rect x="310.19" y="920.7" width="13.6" height="13.6" fill="#111"/>
<rect x="329.98" y="915.9" width="13.6" height="13.6" fill="#111"/>
<rect x="349.77" y="912.7" width="13.6" height="13.6" fill="#111"/>
<rect x="369.56" y="907.2" width="13.6" height="13.6" fill="#111"/>
<rect x="389.35" y="903.6" width="13.6" height="13.6" fill="#111"/>
<rect x="409.14" y="902.9" width="13.6" height="13.6" fill="#111"/>
<rect x="428.93" y="901.7" width="13.6" height="13.6" fill="#111"/>
<rect x="448.72" y="899.5" width="13.6" height="13.6" fill="#111"/>
<rect x="468.51" y="899.5" width="13.6" height="13.6" fill="#111"/>
<rect x="488.3" y="899.5" width="13.6" height="13.6" fill="#111"/>
<rect x="508.09" y="899.5" width="13.6" height="13.6" fill="#111"/>
<rect x="527.88" y="899.5" width="13.6" height="13.6" fill="#111"/>
<rect x="547.67" y="899.5" width="13.6" height="13.6" fill="#111"/>
<rect x="567.46" y="899.5" width="13.6" height="13.6" fill="#111"/>
<rect x="587.25" y="899.5" width="13.6" height="13.6" fill="#111"/>
</svg></body></html>
